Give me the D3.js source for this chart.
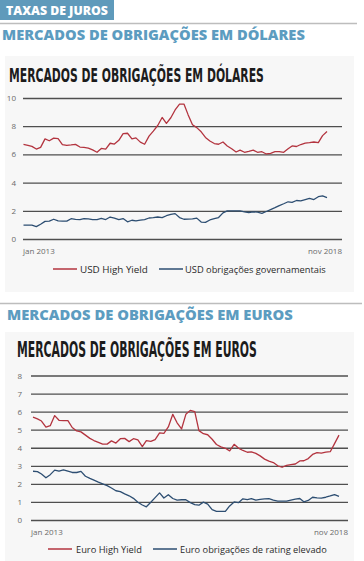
<!DOCTYPE html>
<html><head><meta charset="utf-8">
<script src="https://cdn.jsdelivr.net/npm/d3@7/dist/d3.min.js"></script>
<style>
html,body{margin:0;padding:0;background:#fff;}
svg{display:block;}
</style></head>
<body>
<svg id="c" width="364" height="561"></svg>
<script>
// ---------- DATA ----------
const startMonth = "2013-01";
const endMonth = "2018-11";
const xTickLabels = ["jan 2013", "nov 2018"];

const usdTicks = [0, 2, 4, 6, 8, 10];
const eurTicks = [0, 1, 2, 3, 4, 5, 6, 7, 8];

const usdSeriesNames = ["USD High Yield", "USD obrigações governamentais"];
const eurSeriesNames = ["Euro High Yield", "Euro obrigações de rating elevado"];

const usdHighYield = [6.71,6.64,6.57,6.38,6.5,7.1,6.97,7.15,7.12,6.7,6.64,6.67,6.71,6.52,6.5,6.45,6.32,6.15,6.42,6.38,
  6.79,6.73,7.0,7.48,7.5,7.1,7.17,6.87,6.72,7.3,7.65,8.05,8.62,8.2,8.6,9.15,9.57,9.57,8.82,8.1,
  7.9,7.6,7.2,6.95,6.77,6.72,6.88,6.6,6.4,6.17,6.3,6.15,6.22,6.3,6.15,6.19,6.03,6.08,6.19,6.19,
  6.15,6.4,6.6,6.56,6.7,6.8,6.83,6.88,6.83,7.33,7.62];
const usdGov = [0.98,0.98,0.98,0.88,1.05,1.25,1.27,1.4,1.28,1.27,1.27,1.44,1.39,1.37,1.44,1.43,1.37,1.37,1.46,1.38,
  1.56,1.48,1.38,1.45,1.22,1.33,1.29,1.34,1.37,1.49,1.51,1.56,1.51,1.65,1.74,1.8,1.52,1.4,1.41,1.43,
  1.48,1.2,1.18,1.35,1.44,1.52,1.85,2.0,2.0,2.0,2.0,1.93,1.88,1.93,1.9,1.82,1.95,2.08,2.22,2.37,
  2.5,2.64,2.6,2.73,2.71,2.8,2.88,2.8,3.0,3.06,2.94];
const eurHighYield = [5.69,5.6,5.48,5.14,5.22,5.78,5.52,5.5,5.5,5.12,4.93,4.88,4.7,4.52,4.4,4.3,4.2,4.2,4.38,4.26,
  4.5,4.52,4.34,4.5,4.43,4.06,4.39,4.35,4.45,4.82,4.8,5.15,5.85,5.38,5.04,5.85,6.07,6.0,4.95,4.78,
  4.72,4.47,4.18,4.05,3.97,3.83,4.19,3.98,3.85,3.75,3.77,3.69,3.55,3.37,3.26,3.18,3.0,2.92,3.02,3.06,
  3.1,3.27,3.28,3.4,3.63,3.73,3.7,3.76,3.78,4.23,4.7];
const eurHighGrade = [2.7,2.68,2.55,2.34,2.51,2.76,2.7,2.77,2.7,2.63,2.63,2.69,2.42,2.3,2.21,2.1,2.0,1.9,1.77,1.62,
  1.57,1.45,1.34,1.2,0.98,0.83,0.73,0.98,1.24,1.5,1.22,1.4,1.19,1.1,1.12,1.12,0.96,0.85,0.82,0.99,
  0.88,0.57,0.48,0.48,0.48,0.78,1.0,0.96,1.17,1.13,1.18,1.1,1.14,1.17,1.18,1.1,1.05,1.04,1.04,1.1,
  1.16,1.19,1.01,1.08,1.26,1.22,1.21,1.26,1.33,1.41,1.31];

// ---------- STYLE ----------
const RED = "#b3343f", BLUE = "#2d4e72", GRID = "#4f4f4f", ACCENT = "#5c9cc0";
const parseM = d3.timeParse("%Y-%m");
const t0 = parseM(startMonth), t1 = parseM(endMonth);
const months = d3.timeMonth.range(t0, d3.timeMonth.offset(t1, 1));

const svg = d3.select("#c");

// text squeezed horizontally to a target width (measured, then scaled)
function fitText(parent, x, y, w, txt, attrs) {
  const g = parent.append("g");
  const t = g.append("text").attr("x", 0).attr("y", 0).text(txt);
  Object.entries(attrs).forEach(([k, v]) => t.attr(k, v));
  const nat = t.node().getComputedTextLength();
  const s = nat > 0 ? w / nat : 1;
  g.attr("transform", `translate(${x},${y}) scale(${s},1)`);
  return t;
}

// Top banner
svg.append("rect").attr("x", 0).attr("y", 0).attr("width", 114).attr("height", 20).attr("fill", "#5f9abb");
fitText(svg, 6, 15, 102, "TAXAS DE JUROS", {
  fill: "#fff", "font-family": "'Open Sans', 'DejaVu Sans', sans-serif", "font-weight": 800, "font-size": 12 });

// separators
svg.append("line").attr("x1", 0).attr("x2", 357).attr("y1", 23.5).attr("y2", 23.5).attr("stroke", "#bdbdbd").attr("stroke-width", 1.3);
svg.append("line").attr("x1", 0).attr("x2", 362).attr("y1", 303.5).attr("y2", 303.5).attr("stroke", "#bdbdbd").attr("stroke-width", 1.3);

function header(x, y, w, txt) {
  fitText(svg, x, y, w, txt, { fill: ACCENT, "font-family": "'Open Sans', 'DejaVu Sans', sans-serif",
    "font-weight": 800, "font-size": 13.5 });
}
header(2, 39.5, 303, "MERCADOS DE OBRIGAÇÕES EM DÓLARES");
header(7, 319.5, 286, "MERCADOS DE OBRIGAÇÕES EM EUROS");

function chart(cfg) {
  const g = svg.append("g");
  g.append("rect").attr("x", 5).attr("y", cfg.panelY).attr("width", 349).attr("height", cfg.panelH).attr("fill", "#f7f7f7");
  fitText(g, cfg.titleX, cfg.titleY, cfg.titleW, cfg.title, { fill: "#1c1c1c",
    "font-family": "'DejaVu Sans Condensed', 'Liberation Sans Narrow', 'Roboto', sans-serif",
    "font-weight": 700, "font-size": cfg.titleSize });

  const x = d3.scaleTime().domain([t0, t1]).range(cfg.xRange);
  const y = d3.scaleLinear().domain(cfg.yDomain).range(cfg.yRange);

  const ax = g.append("g").attr("transform", `translate(${cfg.gridX0},0)`)
    .call(d3.axisLeft(y).tickValues(cfg.ticks).tickSize(-(cfg.gridX1 - cfg.gridX0)).tickPadding(cfg.pad).tickFormat(d3.format("d")));
  ax.select(".domain").remove();
  ax.selectAll(".tick line").attr("stroke", GRID).attr("stroke-width", 1.3);
  ax.selectAll(".tick text").attr("fill", "#6a6a6a").attr("font-size", 8)
    .attr("font-family", "'Open Sans', 'DejaVu Sans', sans-serif");

  g.append("text").attr("x", cfg.gridX0).attr("y", cfg.xLabY).attr("fill", "#6a6a6a").attr("font-size", 8)
    .attr("font-family", "'Open Sans', 'DejaVu Sans', sans-serif").text(xTickLabels[0]);
  g.append("text").attr("x", cfg.gridX1).attr("y", cfg.xLabY).attr("text-anchor", "end").attr("fill", "#6a6a6a").attr("font-size", 8)
    .attr("font-family", "'Open Sans', 'DejaVu Sans', sans-serif").text(xTickLabels[1]);

  const line = d3.line().x((d, i) => x(months[i])).y(d => y(d));
  [[cfg.s2, BLUE], [cfg.s1, RED]].forEach(([s, c]) => {
    g.append("path").datum(s).attr("d", line).attr("fill", "none").attr("stroke", c)
      .attr("stroke-width", 1.3).attr("stroke-linejoin", "round");
  });

  // legend
  const L = cfg.legend;
  [[L.r0, L.t0, RED, cfg.names[0], L.w0], [L.r1, L.t1, BLUE, cfg.names[1], L.w1]].forEach(([lx, tx, c, nm, w]) => {
    g.append("line").attr("x1", lx).attr("x2", lx + 24).attr("y1", L.y).attr("y2", L.y).attr("stroke", c).attr("stroke-width", 1.5);
    fitText(g, tx, L.y + 3.5, w, nm, { fill: "#2a2a2a", "font-size": 9.5,
      "font-family": "'Open Sans', 'DejaVu Sans', sans-serif" });
  });
}

chart({
  panelY: 56, panelH: 236, title: "MERCADOS DE OBRIGAÇÕES EM DÓLARES", titleX: 9, titleY: 82, titleSize: 20, titleW: 255,
  xRange: [23.5, 327], yDomain: [0, 10], yRange: [239, 98], ticks: usdTicks, gridX0: 23, gridX1: 342, pad: 7,
  xLabY: 254, s1: usdHighYield, s2: usdGov, names: usdSeriesNames,
  legend: { y: 269, r0: 53, t0: 80, w0: 68, r1: 159, t1: 185, w1: 141 }
});
chart({
  panelY: 332, panelH: 229, title: "MERCADOS DE OBRIGAÇÕES EM EUROS", titleX: 17, titleY: 357, titleSize: 22, titleW: 240,
  xRange: [33, 339], yDomain: [0, 8], yRange: [520, 375.5], ticks: eurTicks, gridX0: 31, gridX1: 348, pad: 9,
  xLabY: 534.5, s1: eurHighYield, s2: eurHighGrade, names: eurSeriesNames,
  legend: { y: 549, r0: 48, t0: 76, w0: 66, r1: 153, t1: 180, w1: 147 }
});
</script>
</body></html>
